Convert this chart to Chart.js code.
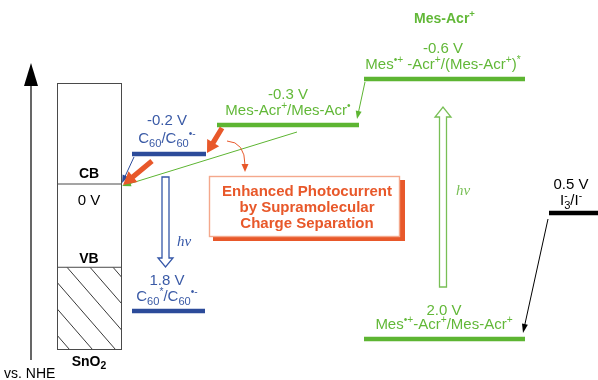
<!DOCTYPE html>
<html><head><meta charset="utf-8">
<script src="https://cdn.jsdelivr.net/npm/chart.js@4/dist/chart.umd.min.js"></script>
<style>html,body{margin:0;padding:0;background:#fff}#wrap{width:598px;height:380px;position:relative}</style>
</head><body><div id="wrap"><canvas id="c" width="598" height="380"></canvas></div>
<script>
// ---------------- DATA ----------------
const levelNames = ['(Mes-Acr+)* level', 'Mes-Acr+ reduction', 'C60 reduction', 'C60 excited', 'Mes-Acr+ oxidation', 'I3-/I- couple'];
const levelPotentials = [-0.6, -0.3, -0.2, 1.8, 2.0, 0.5];            // V vs. NHE
const levelValueLabels = ['-0.6 V', '-0.3 V', '-0.2 V', '1.8 V', '2.0 V', '0.5 V'];
const levelCoupleLabels = [
  'Mes^{•+} -Acr^{+}/(Mes-Acr^{+})^{*}',
  'Mes-Acr^{+}/Mes-Acr^{•}',
  'C_{60}/C_{60}^{•-}',
  'C_{60}^{*}/C_{60}^{•-}',
  'Mes^{•+}-Acr^{+}/Mes-Acr^{+}',
  'I_{3}~^{-}/I^{-}'
];
const moleculeTitle = 'Mes-Acr^{+}';
const sno2BandNames = ['CB', 'VB'];
const sno2BandPotentials = [0.0, 1.22];   // VB drawn schematically
const sno2BandValueLabels = ['0 V', ''];
const sno2Name = 'SnO_{2}';
const axisLabel = 'vs. NHE';
const photonLabel = 'hν';
const calloutLines = ['Enhanced Photocurrent', 'by Supramolecular', 'Charge Separation'];

// ---------------- LAYOUT / STYLE ----------------
const GREEN = '#5db532', GREEN_T = '#62b838', BLUE = '#2c4b9a', BLUE_T = '#3a5aa6';
const ORANGE = '#e8582a', ORANGE_L = '#f4a88c', BLACK = '#000';
const FONT = '"Liberation Sans", Arial, Helvetica, sans-serif';
const SERIF = '"Liberation Serif", "DejaVu Serif", serif';
const LAYOUT = {
  levelX: [[364, 525], [217, 359], [132, 206], [132, 205], [364, 525], [549, 598]],
  levelColor: [GREEN, GREEN, BLUE, BLUE, GREEN, BLACK],
  textColor: [GREEN_T, GREEN_T, BLUE_T, BLUE_T, GREEN_T, BLACK],
  textCx: [443, 288, 167, 167, 444, 571],
  box: { x0: 57, x1: 121, top: 83, bottom: 349 }
};
// schematic (non-linear) potential axis: [potential, pixel in 380px-tall area]
const Y_ANCHORS = [[-0.6, 79], [-0.3, 125], [-0.2, 154], [0, 184], [0.5, 213], [1.8, 311], [2.0, 339]];

class SchematicScale extends Chart.LinearScale {
  _frac(v) {
    const a = Y_ANCHORS; let i = 0;
    if (v <= a[0][0]) i = 0; else if (v >= a[a.length - 1][0]) i = a.length - 2;
    else { while (i < a.length - 2 && v > a[i + 1][0]) i++; }
    const [v0, p0] = a[i], [v1, p1] = a[i + 1];
    return (p0 + (v - v0) * (p1 - p0) / (v1 - v0)) / 380;
  }
  getPixelForValue(v) {
    if (v === null || v === undefined || isNaN(v)) return NaN;
    return this.top + this._frac(v) * (this.bottom - this.top);
  }
  getValueForPixel(px) {
    const p = (px - this.top) / (this.bottom - this.top) * 380; const a = Y_ANCHORS;
    let i = 0; while (i < a.length - 2 && p > a[i + 1][1]) i++;
    const [v0, p0] = a[i], [v1, p1] = a[i + 1];
    return v0 + (p - p0) * (v1 - v0) / (p1 - p0);
  }
}
SchematicScale.id = 'schematic';
SchematicScale.defaults = Chart.LinearScale.defaults;
Chart.register(SchematicScale);

// ---------------- helpers ----------------
function parseRich(str) {
  const segs = []; const re = /(~?)([\^_])\{([^}]*)\}|([^\^_~]+)/g; let m;
  while ((m = re.exec(str))) {
    if (m[4] !== undefined) segs.push({ t: m[4], k: 'n' });
    else segs.push({ t: m[3], k: m[2] === '^' ? 'sup' : 'sub', stack: m[1] === '~' });
  }
  return segs;
}
function drawRich(ctx, str, cx, base, size, weight, color, align) {
  const segs = parseRich(str);
  const fontFor = s => `${weight} ${s.k === 'n' ? size : (s.k === 'sub' ? size * 0.74 : size * 0.68)}px ${FONT}`;
  let total = 0, prevW = 0;
  segs.forEach(s => { ctx.font = fontFor(s); s.w = ctx.measureText(s.t).width;
    if (s.stack) { s.back = prevW; total += Math.max(0, s.w - prevW); } else total += s.w; prevW = s.w; });
  let x = align === 'left' ? cx : cx - total / 2;
  ctx.fillStyle = color; ctx.textAlign = 'left'; ctx.textBaseline = 'alphabetic';
  segs.forEach(s => {
    ctx.font = fontFor(s);
    const dy = s.k === 'sup' ? -size * 0.42 : (s.k === 'sub' ? size * 0.24 : 0);
    if (s.stack) { const sx = x - s.back; ctx.fillText(s.t, sx, base + dy); x = Math.max(x, sx + s.w); }
    else { ctx.fillText(s.t, x, base + dy); x += s.w; }
  });
}
function thinArrow(ctx, x1, y1, x2, y2, color, lw, hl, hw) {
  const a = Math.atan2(y2 - y1, x2 - x1), c = Math.cos(a), s = Math.sin(a);
  ctx.strokeStyle = color; ctx.fillStyle = color; ctx.lineWidth = lw;
  ctx.beginPath(); ctx.moveTo(x1, y1); ctx.lineTo(x2 - c * hl * 0.8, y2 - s * hl * 0.8); ctx.stroke();
  ctx.beginPath(); ctx.moveTo(x2, y2);
  ctx.lineTo(x2 - c * hl - s * hw, y2 - s * hl + c * hw);
  ctx.lineTo(x2 - c * hl + s * hw, y2 - s * hl - c * hw); ctx.closePath(); ctx.fill();
}
function thickArrow(ctx, x1, y1, x2, y2, color, sw, hl, hw) {
  const a = Math.atan2(y2 - y1, x2 - x1), c = Math.cos(a), s = Math.sin(a);
  const bx = x2 - c * hl, by = y2 - s * hl;
  ctx.fillStyle = color; ctx.beginPath();
  ctx.moveTo(x1 - s * sw, y1 + c * sw); ctx.lineTo(bx - s * sw, by + c * sw);
  ctx.lineTo(bx - s * hw, by + c * hw); ctx.lineTo(x2, y2);
  ctx.lineTo(bx + s * hw, by - c * hw); ctx.lineTo(bx + s * sw, by - c * sw);
  ctx.lineTo(x1 + s * sw, y1 - c * sw); ctx.closePath(); ctx.fill();
}
function hollowArrowV(ctx, cx, y0, yTip, sh, hh, hl, color) {
  const d = Math.sign(yTip - y0), yb = yTip - d * hl;
  ctx.strokeStyle = color; ctx.lineWidth = 1.3; ctx.fillStyle = '#fff'; ctx.lineJoin = 'miter';
  ctx.beginPath(); ctx.moveTo(cx - sh, y0); ctx.lineTo(cx - sh, yb); ctx.lineTo(cx - hh, yb);
  ctx.lineTo(cx, yTip); ctx.lineTo(cx + hh, yb); ctx.lineTo(cx + sh, yb); ctx.lineTo(cx + sh, y0);
  ctx.closePath(); ctx.fill(); ctx.stroke();
}

// ---------------- datasets ----------------
const datasets = levelPotentials.map((p, i) => ({
  label: levelNames[i],
  data: [{ x: LAYOUT.levelX[i][0], y: p }, { x: LAYOUT.levelX[i][1], y: p }],
  borderColor: LAYOUT.levelColor[i], borderWidth: 4.5, borderCapStyle: 'butt',
  showLine: true, pointRadius: 0, clip: false
}));
sno2BandPotentials.forEach((p, i) => datasets.push({
  label: 'SnO2 ' + sno2BandNames[i],
  data: [{ x: LAYOUT.box.x0, y: p }, { x: LAYOUT.box.x1, y: p }],
  borderColor: '#4a4a4a', borderWidth: 1, showLine: true, pointRadius: 0, clip: false
}));

const diagramPlugin = {
  id: 'diagram',
  beforeDatasetsDraw(chart) {
    const ctx = chart.ctx, xs = chart.scales.x, ys = chart.scales.y;
    const X = v => xs.getPixelForValue(v), Y = v => ys.getPixelForValue(v);
    const B = LAYOUT.box, bx0 = X(B.x0), bx1 = X(B.x1);
    ctx.save();
    // potential axis arrow
    ctx.strokeStyle = BLACK; ctx.lineWidth = 1.2;
    ctx.beginPath(); ctx.moveTo(31, 360); ctx.lineTo(31, 80); ctx.stroke();
    ctx.fillStyle = BLACK; ctx.beginPath(); ctx.moveTo(31, 63); ctx.lineTo(38, 86); ctx.lineTo(24, 86); ctx.closePath(); ctx.fill();
    // SnO2 hatch below VB
    const vb = Y(sno2BandPotentials[1]);
    ctx.save(); ctx.beginPath(); ctx.rect(bx0, vb, bx1 - bx0, B.bottom - vb); ctx.clip();
    ctx.strokeStyle = '#222'; ctx.lineWidth = 0.9;
    for (let k = -6; k <= 3; k++) { const x0 = 67 + k * 23; ctx.beginPath(); ctx.moveTo(x0, vb); ctx.lineTo(x0 + 100, vb + 115); ctx.stroke(); }
    ctx.restore();
    // SnO2 box
    ctx.strokeStyle = '#4a4a4a'; ctx.lineWidth = 1; ctx.strokeRect(bx0 + 0.5, B.top + 0.5, bx1 - bx0, B.bottom - B.top);
    // callout box
    ctx.fillStyle = ORANGE; ctx.fillRect(213, 180, 192, 61);
    ctx.fillStyle = '#fff'; ctx.fillRect(209, 176, 191, 61);
    ctx.strokeStyle = ORANGE_L; ctx.lineWidth = 1.4; ctx.strokeRect(209.5, 176.5, 190, 60);
    ctx.fillStyle = ORANGE; ctx.font = `bold 15px ${FONT}`; ctx.textAlign = 'center'; ctx.textBaseline = 'alphabetic';
    calloutLines.forEach((t, i) => ctx.fillText(t, 307, 196 + i * 16));
    ctx.restore();
  },
  afterDatasetsDraw(chart) {
    const ctx = chart.ctx, xs = chart.scales.x, ys = chart.scales.y;
    const X = v => xs.getPixelForValue(v), Y = v => ys.getPixelForValue(v);
    const B = LAYOUT.box, bx0 = X(B.x0), bx1 = X(B.x1), cbx = (bx0 + bx1) / 2;
    const L = i => ({ x0: X(LAYOUT.levelX[i][0]), x1: X(LAYOUT.levelX[i][1]), y: Y(levelPotentials[i]) });
    const lAcrEx = L(0), lAcr = L(1), lC60 = L(2), lC60ex = L(3), lAcrOx = L(4), lI = L(5);
    const cb = Y(sno2BandPotentials[0]), vb = Y(sno2BandPotentials[1]);
    ctx.save();
    // level labels
    levelPotentials.forEach((p, i) => {
      const l = L(i), cx = LAYOUT.textCx[i], col = LAYOUT.textColor[i];
      const off1 = i === 2 ? -29 : (i === 4 || i === 5 ? -24 : -26);
      const off2 = i === 2 ? -11 : (i === 5 ? -8 : -10);
      drawRich(ctx, levelValueLabels[i], cx, l.y + off1, 15, 'normal', col);
      drawRich(ctx, levelCoupleLabels[i], cx, l.y + off2, 15, 'normal', col);
    });
    drawRich(ctx, moleculeTitle, (lAcrEx.x0 + lAcrEx.x1) / 2, lAcrEx.y - 56, 14, 'bold', GREEN_T);
    // SnO2 labels
    drawRich(ctx, sno2BandNames[0], cbx, cb - 6, 14, 'bold', BLACK);
    drawRich(ctx, sno2BandValueLabels[0], cbx, cb + 21, 15, 'normal', BLACK);
    drawRich(ctx, sno2BandNames[1], cbx, vb - 4, 14, 'bold', BLACK);
    drawRich(ctx, sno2Name, cbx, B.bottom + 17, 14, 'bold', BLACK);
    ctx.font = `14px ${FONT}`; ctx.fillStyle = BLACK; ctx.textAlign = 'left'; ctx.fillText(axisLabel, 4, 378);
    // arrows
    thinArrow(ctx, lAcrEx.x0 + 1, lAcrEx.y + 3, lAcr.x1 - 2, lAcr.y - 6, GREEN, 1, 8, 3);
    thinArrow(ctx, 297, lAcr.y + 7, bx1 + 1, cb + 2, GREEN, 1, 9, 3);
    thinArrow(ctx, lC60.x0 + 2, lC60.y + 3, bx1 + 1, cb - 1, BLUE, 1, 8, 3);
    thickArrow(ctx, lAcr.x0 + 5, lAcr.y + 3, lC60.x1 + 1, lC60.y - 1, ORANGE, 2.6, 12, 7);
    thickArrow(ctx, lC60.x0 + 20, lC60.y + 7, bx1 + 2, cb + 1, ORANGE, 2.6, 13, 7);
    // curved orange arrow
    ctx.strokeStyle = ORANGE; ctx.lineWidth = 1; ctx.beginPath(); ctx.moveTo(227, lAcr.y + 16);
    ctx.quadraticCurveTo(245, lAcr.y + 17, 245, lAcr.y + 40); ctx.stroke();
    ctx.fillStyle = ORANGE; ctx.beginPath(); ctx.moveTo(245, lAcr.y + 47); ctx.lineTo(241.5, lAcr.y + 39); ctx.lineTo(248.5, lAcr.y + 39); ctx.closePath(); ctx.fill();
    thinArrow(ctx, lI.x0 - 1, lI.y + 6, lAcrOx.x1 - 2, lAcrOx.y - 6, BLACK, 1, 9, 3);
    // excitation arrows
    hollowArrowV(ctx, 165.5, lC60.y + 23, lC60ex.y - 44, 3.5, 7.5, 9, '#3557a8');
    hollowArrowV(ctx, 443, lAcrOx.y - 52, lAcrEx.y + 28, 3.5, 8, 10, '#78bf55');
    ctx.font = `italic 15px ${SERIF}`; ctx.textAlign = 'left';
    ctx.fillStyle = '#3557a8'; ctx.fillText(photonLabel, 177, 246);
    ctx.fillStyle = '#78bf55'; ctx.fillText(photonLabel, 456, 195);
    ctx.restore();
  }
};

new Chart(document.getElementById('c'), {
  type: 'scatter',
  data: { datasets },
  options: {
    responsive: false, animation: false, devicePixelRatio: 1,
    layout: { padding: 0 },
    plugins: { legend: { display: false }, tooltip: { enabled: false } },
    scales: {
      x: { type: 'linear', min: 0, max: 598, display: false },
      y: { type: 'schematic', min: -1.2, max: 2.3, display: false }
    }
  },
  plugins: [diagramPlugin]
});
</script></body></html>
